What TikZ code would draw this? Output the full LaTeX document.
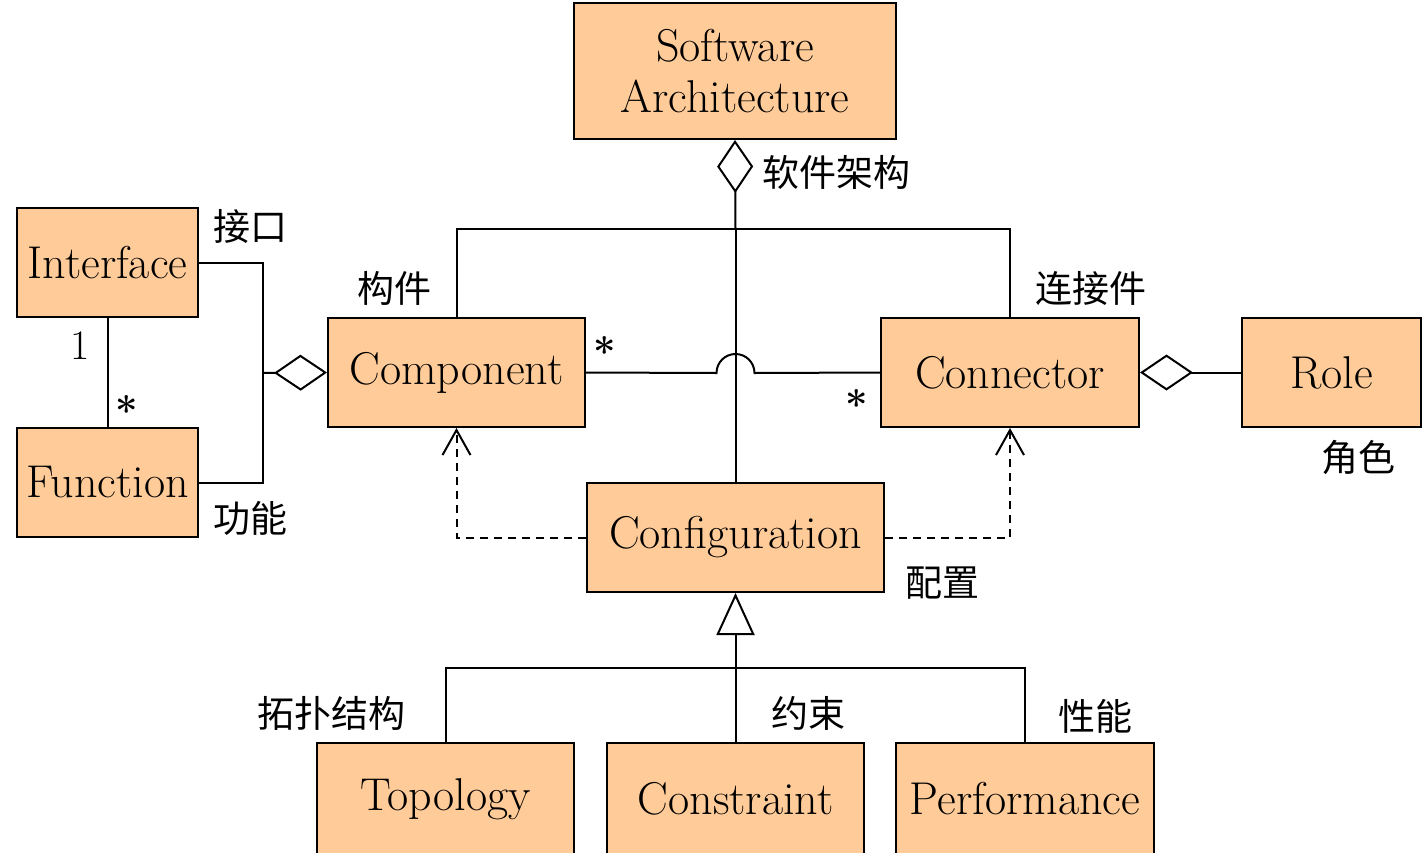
\documentclass[tikz,border=0pt]{standalone}
\usepackage{fontspec}
\newfontfamily\cjk{Noto Sans CJK SC}
\usetikzlibrary{arrows.meta}
\definecolor{peach}{RGB}{255,204,153}
\tikzset{
  cls/.style={draw=black, fill=peach, line width=2pt, inner sep=0pt,
    font=\fontsize{46}{51}\selectfont, align=center},
  lbl/.style={font=\cjk\fontsize{37}{42}\selectfont, inner sep=0pt},
  mult/.style={font=\fontsize{42}{46}\selectfont, inner sep=0pt},
  star/.style={font=\bfseries\fontsize{40}{44}\selectfont, inner sep=0pt},
  conn/.style={line width=2pt},
  agg/.style={conn, {Diamond[open,length=53pt,width=36pt,line width=2pt]}-},
}
\begin{document}
\begin{tikzpicture}[x=1pt,y=-1pt]
\clip (0,0) rectangle (1422,852);
\fill[white] (0,0) rectangle (1422,852);
% classes
\node[cls, minimum width=322pt, minimum height=136pt] (sa) at (735,71) {Software\\Architecture};
\node[cls, minimum width=181pt, minimum height=109pt] (intf) at (107.5,262.5) {Interface};
\node[cls, minimum width=181pt, minimum height=109pt] (func) at (107.5,482.5) {Function};
\node[cls, minimum width=257pt, minimum height=109pt] (comp) at (456.5,372.5) {Component};
\node[cls, minimum width=258pt, minimum height=109pt] (conn) at (1010,372.5) {Connector};
\node[cls, minimum width=179pt, minimum height=109pt] (role) at (1331.5,372.5) {Role};
\node[cls, minimum width=297pt, minimum height=109pt] (cfg) at (735.5,537.5) {Configuration};
\node[cls, minimum width=257pt, minimum height=112pt] (topo) at (445.5,799) {Topology};
\node[cls, minimum width=257pt, minimum height=112pt] (cons) at (735.5,799) {Constraint};
\node[cls, minimum width=258pt, minimum height=112pt] (perf) at (1025,799) {Performance};
% junction coordinates
\coordinate (top) at (735.5,229);
\coordinate (jx) at (263,373);
\coordinate (gen) at (735.5,668);
\coordinate (hopL) at (716.5,373);
% aggregation from software architecture
\draw[agg] (sa.south) -- (top);
\draw[conn] (top) -- (cfg.north);
\draw[conn] (comp.north) |- (top) -| (conn.north);
% component - connector with hop
\draw[conn] (comp.east) -- (hopL) arc[start angle=180,end angle=0,radius=19pt] -- (conn.west);
% interface / function
\draw[conn] (intf.south) -- (func.north);
\draw[conn] (intf.east) -| (jx) |- (func.east);
\draw[agg] (comp.west) -- (jx);
% role
\draw[agg] (conn.east) -- (role.west);
% dashed dependencies
\draw[conn, dash pattern=on 8pt off 6pt, -{Straight Barb[length=25pt,width=28pt,line width=2pt]}] (cfg.west) -| (comp.south);
\draw[conn, dash pattern=on 8pt off 6pt, -{Straight Barb[length=25pt,width=28pt,line width=2pt]}] (cfg.east) -| (conn.south);
% generalization
\draw[conn, -{Triangle[open,length=42pt,width=38pt,line width=2pt]}] (gen) -- (cfg.south);
\draw[conn] (topo.north) |- (gen) -| (perf.north);
\draw[conn] (cons.north) -- (gen);
% labels
\node[lbl] (l1) at (836,172) {软件架构};
\node[lbl] (l2) at (250,226) {接口};
\node[lbl] (l3) at (250,518) {功能};
\node[lbl] (l4) at (394,288) {构件};
\node[lbl] (l5) at (1091,288) {连接件};
\node[lbl] (l6) at (1358,458) {角色};
\node[lbl] (l7) at (942,583) {配置};
\node[lbl] (l8) at (331,713) {拓扑结构};
\node[lbl] (l9) at (808,713) {约束};
\node[lbl] (l10) at (1095,716) {性能};
% multiplicities
\node[mult] (m1) at (80,346) {1};
\node[star] (m2) at (127,410) {*};
\node[star] (m3) at (605,351) {*};
\node[star] (m4) at (857,404) {*};
\end{tikzpicture}
\end{document}
